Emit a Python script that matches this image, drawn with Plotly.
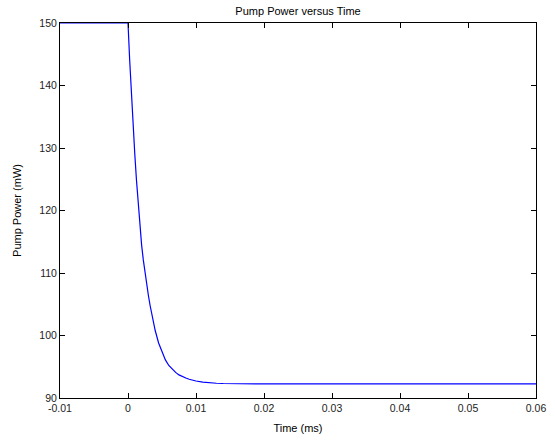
import plotly.graph_objects as go

# pump power (mW), time in ms
time_ms = [-0.01, 0.0, 0.00025, 0.0005, 0.00075, 0.001, 0.00125, 0.0015,
           0.00175, 0.002, 0.00225, 0.0025, 0.00275, 0.003, 0.00325, 0.0035,
           0.00375, 0.004, 0.0045, 0.005, 0.0055, 0.006, 0.0065, 0.007,
           0.0075, 0.008, 0.0085, 0.009, 0.0095, 0.010, 0.011, 0.012,
           0.013, 0.014, 0.016, 0.02, 0.03, 0.04, 0.05, 0.06]
pump_mw = [150, 150, 144.0, 138.5, 133.5, 129.0, 124.8, 121.0,
           117.6, 114.5, 112.1, 110.0, 108.1, 106.4, 104.8, 103.3,
           102.0, 100.8, 98.8, 97.3, 96.1, 95.2, 94.6, 94.1,
           93.7, 93.4, 93.2, 93.0, 92.85, 92.72, 92.55, 92.43,
           92.36, 92.32, 92.28, 92.25, 92.25, 92.25, 92.25, 92.25]

x_ticks = [-0.01, 0, 0.01, 0.02, 0.03, 0.04, 0.05, 0.06]
x_labels = ["-0.01", "0", "0.01", "0.02", "0.03", "0.04", "0.05", "0.06"]
y_ticks = [90, 100, 110, 120, 130, 140, 150]

FONT = "Liberation Sans, Arial, sans-serif"

fig = go.Figure(
    go.Scatter(
        x=time_ms,
        y=pump_mw,
        mode="lines",
        line=dict(color="#0000ff", width=1.2),
        cliponaxis=True,
    )
)

axis_style = dict(
    showline=True,
    linecolor="black",
    linewidth=1,
    mirror="ticks",
    ticks="inside",
    ticklen=5,
    tickcolor="black",
    showgrid=False,
    zeroline=False,
    automargin=False,
    tickfont=dict(size=10.5, color="#222222"),
)

fig.update_layout(
    width=555,
    height=441,
    margin=dict(l=60, r=19, t=23, b=43),
    paper_bgcolor="white",
    plot_bgcolor="white",
    font=dict(family=FONT, size=11, color="black"),
    showlegend=False,
    title=dict(
        text="Pump Power versus Time",
        x=0.537,
        xanchor="center",
        y=0.974,
        yanchor="middle",
        font=dict(size=11),
    ),
    xaxis=dict(
        axis_style,
        range=[-0.01, 0.06],
        tickvals=x_ticks,
        ticktext=x_labels,
        title=dict(text="Time (ms)", standoff=11, font=dict(size=11)),
    ),
    yaxis=dict(
        axis_style,
        range=[90, 150],
        tickvals=y_ticks,
        title=dict(text="Pump Power (mW)", standoff=15, font=dict(size=11)),
    ),
)

# drop the browser's default 8px body margin so the figure sits at 0,0
fig.write_html(
    "out.html",
    config={"displayModeBar": False},
    post_script="document.body.style.margin = '0';",
)
